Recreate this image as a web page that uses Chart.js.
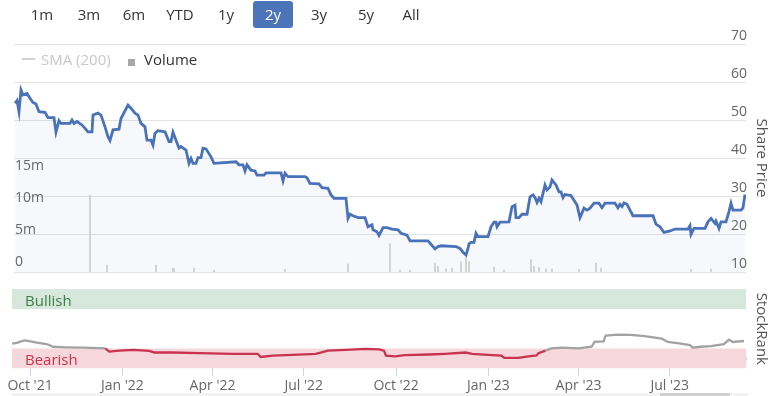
<!DOCTYPE html>
<html>
<head>
<meta charset="utf-8">
<script src="https://cdn.jsdelivr.net/npm/chart.js@4.4.0/dist/chart.umd.min.js"></script>
<style>
  body { margin: 0; background: #fff; font-family: 'Open Sans', sans-serif; }
  #wrap { position: relative; width: 769px; height: 396px; overflow: hidden; }
  canvas { position: absolute; left: 0; }
  #main { top: 0; }
  #rank { top: 280px; }
  .btn { position: absolute; top: 1px; width: 40px; height: 27px; line-height: 27px; text-align: center; font-size: 15px; color: #333; }
  .btn.on { background: #4b74b9; color: #fff; border-radius: 3px; }
  .leg { position: absolute; top: 49px; line-height: 20px; font-size: 15px; white-space: nowrap; }
  #scroll { position: absolute; left: 12px; top: 393px; width: 736px; height: 3px; background: #f2f2f2; }
  #thumb { position: absolute; left: 660px; top: 393px; width: 70px; height: 3px; background: #d0d0d0; }
</style>
</head>
<body>
<div id="wrap">
  <canvas id="main" width="769" height="284"></canvas>
  <canvas id="rank" width="769" height="116"></canvas>
  <div id="buttons"></div>
  <div style="position:absolute;left:22px;top:58px;width:13px;height:2px;background:#d0d0d0"></div>
  <div class="leg" style="left:41px;color:#c8c8c8">SMA (200)</div>
  <div style="position:absolute;left:128px;top:59px;width:7px;height:7px;background:#a8a8a8"></div>
  <div class="leg" style="left:144px;color:#333">Volume</div>
  <div id="scroll"></div>
  <div id="thumb"></div>
</div>
<script>
// range selector
const ranges = ['1m', '3m', '6m', 'YTD', '1y', '2y', '3y', '5y', 'All'];
const rangeCenters = [42, 89, 134, 180, 226, 273, 319, 366, 411];
const activeRange = '2y';

// x values are days counted from 1 Oct 2021
const monthTicks = [0, 92, 182, 273, 365, 457, 547, 638];
const monthLabels = ["Oct '21", "Jan '22", "Apr '22", "Jul '22", "Oct '22", "Jan '23", "Apr '23", "Jul '23"];

// share price
const priceDays = [-17, -15, -13, -11, -9, -5, -2, 1, 4, 7, 13, 16, 22, 24, 27, 29, 38, 40, 42, 45,
  50, 56, 60, 61, 66, 69, 73, 76, 78, 81, 87, 89, 96, 99, 103, 106, 109, 113, 115, 119,
  121, 123, 126, 133, 137, 139, 141, 144, 147, 149, 154, 157, 159, 161, 164, 166, 169, 171, 174, 179,
  182, 204, 207, 211, 213, 215, 219, 223, 225, 232, 234, 249, 251, 253, 256, 273, 275, 278, 287, 290,
  296, 299, 302, 314, 316, 318, 321, 326, 333, 336, 340, 341, 345, 347, 351, 355, 360, 366, 369, 375,
  378, 396, 399, 403, 406, 409, 424, 428, 431, 434, 436, 437, 439, 442, 444, 446, 456, 459, 462, 464,
  465, 468, 477, 480, 483, 484, 487, 490, 495, 498, 501, 503, 505, 507, 509, 513, 515, 518, 520, 524,
  527, 529, 531, 533, 539, 542, 545, 548, 552, 555, 558, 562, 567, 570, 573, 583, 586, 588, 590, 592,
  595, 598, 601, 621, 624, 628, 632, 638, 643, 656, 658, 659, 662, 673, 676, 679, 683, 684, 687, 689,
  694, 697, 699, 701, 709, 711, 713];
const prices = [54.4, 55.1, 52.2, 57.9, 56.6, 57.0, 55.7, 54.6, 54.2, 52.2, 52.0, 50.6, 50.6, 46.8, 49.8, 49.1, 49.1, 50.0, 49.1, 49.6,
  48.7, 46.9, 46.9, 51.3, 51.8, 51.3, 48.2, 45.6, 44.6, 47.4, 47.6, 50.4, 53.9, 53.1, 51.8, 51.3, 49.1, 48.2, 44.7, 44.7,
  43.4, 46.5, 47.2, 46.9, 44.3, 44.3, 46.8, 44.7, 42.6, 43.0, 42.1, 38.6, 39.9, 38.6, 38.6, 40.1, 40.1, 42.6, 42.4, 40.3,
  38.6, 39.0, 38.2, 38.2, 36.6, 38.2, 36.8, 36.6, 35.5, 35.5, 36.1, 36.1, 34.0, 36.0, 35.1, 35.1, 34.8, 33.3, 33.2, 32.2,
  32.0, 30.3, 29.4, 29.4, 24.1, 25.2, 24.8, 24.3, 24.3, 21.9, 22.4, 21.1, 20.6, 19.6, 21.7, 21.7, 21.3, 21.1, 20.2, 19.7,
  18.2, 18.2, 17.3, 16.1, 16.7, 16.9, 16.7, 16.2, 15.2, 14.5, 16.2, 17.4, 17.8, 17.8, 20.2, 19.3, 19.3, 21.9, 23.1, 23.1,
  21.9, 23.1, 23.2, 27.2, 27.6, 24.3, 24.3, 25.2, 25.2, 29.8, 30.3, 29.6, 28.3, 29.4, 28.5, 32.9, 31.6, 32.4, 34.2, 32.9,
  31.1, 31.1, 29.6, 30.4, 30.1, 28.9, 27.6, 24.3, 26.8, 26.3, 26.8, 28.1, 28.1, 26.9, 28.1, 28.1, 26.9, 27.8, 27.2, 28.2,
  27.8, 26.3, 24.8, 24.8, 22.6, 21.9, 20.4, 20.8, 21.3, 21.3, 22.2, 19.9, 21.5, 21.5, 23.2, 24.1, 22.8, 23.4, 21.5, 23.2,
  23.2, 25.9, 28.1, 26.3, 26.3, 26.9, 30.4];

// volume, millions of shares
const volDays = [58, 75, 124, 141, 142, 162, 182, 253, 316, 358, 368, 378, 403, 406, 414, 420, 429, 434, 437, 462,
  472, 499, 502, 507, 514, 520, 547, 564, 569, 659, 679];
const volumes = [12.0, 1.1, 1.1, 0.6, 0.5, 0.6, 0.3, 0.4, 1.25, 4.4, 0.3, 0.3, 1.4, 0.9, 0.5, 0.6, 1.6, 2.3, 1.6, 0.8,
  0.3, 1.9, 0.9, 0.7, 0.5, 0.5, 0.4, 1.4, 0.6, 0.4, 0.5];

// StockRank
const rankDays = [-18, -13, -9, -5, 0, 7, 13, 18, 23, 36, 53, 75, 79, 89, 103, 119, 124, 142, 169, 202,
  227, 230, 242, 268, 285, 297, 315, 335, 348, 353, 355, 364, 374, 398, 414, 434, 441, 461, 470, 473,
  487, 497, 505, 507, 514, 520, 530, 547, 560, 563, 572, 574, 586, 599, 613, 630, 636, 649, 658, 661,
  669, 679, 692, 697, 701, 712];
const rankValues = [31.3, 32.1, 34.1, 35.4, 34.1, 32.6, 31.3, 30.1, 27.2, 26.5, 26.0, 25.2, 21.1, 22.3, 23.2, 22.0, 19.9, 19.9, 19.1, 18.3,
  18.3, 14.3, 15.9, 17.1, 18.3, 22.3, 23.2, 24.4, 24.0, 22.3, 15.9, 15.0, 16.7, 17.4, 18.3, 19.9, 18.3, 16.7, 15.9, 13.0,
  13.0, 15.0, 16.2, 19.1, 22.3, 25.2, 26.0, 25.2, 27.2, 33.3, 34.1, 41.5, 42.7, 42.3, 40.6, 37.4, 33.3, 31.3, 29.3, 26.0,
  27.2, 28.0, 30.5, 36.2, 33.3, 34.5];

const FONT = "'Open Sans', sans-serif";
const BLUE = '#4a72b8';
const RED = '#c9334f';
const GREY = '#a2a2a2';

const btnBox = document.getElementById('buttons');
ranges.forEach((r, i) => {
  const b = document.createElement('div');
  b.className = 'btn' + (r === activeRange ? ' on' : '');
  b.style.left = (rangeCenters[i] - 20) + 'px';
  b.textContent = r;
  btnBox.appendChild(b);
});

const tickFont = { family: FONT, size: 14 };
const titleFont = { family: FONT, size: 15, lineHeight: 1 };

new Chart(document.getElementById('main'), {
  type: 'line',
  data: {
    datasets: [
      {
        type: 'line',
        label: 'Share Price',
        data: priceDays.map((d, i) => ({ x: d, y: prices[i] })),
        yAxisID: 'price',
        borderColor: BLUE,
        borderWidth: 2.8,
        pointRadius: 0,
        tension: 0,
        fill: 'start',
        backgroundColor: 'rgba(74,114,184,0.05)',
        order: 0
      },
      {
        type: 'bar',
        label: 'Volume',
        data: volDays.map((d, i) => ({ x: d, y: volumes[i] })),
        yAxisID: 'vol',
        backgroundColor: '#cccccc',
        barThickness: 1,
        order: 1
      }
    ]
  },
  options: {
    responsive: false,
    animation: false,
    events: [],
    layout: { padding: { left: 12, top: 44, bottom: 12, right: 0 } },
    plugins: {
      legend: { display: false },
      tooltip: { enabled: false },
      filler: { drawTime: 'beforeDatasetsDraw' }
    },
    scales: {
      x: { type: 'linear', min: -18, max: 714, display: false, offset: false },
      price: {
        position: 'right', min: 10, max: 70,
        ticks: { stepSize: 10, mirror: true, padding: 1, labelOffset: -8, font: tickFont, color: '#666' },
        grid: { color: '#e3e3e3', drawTicks: false },
        border: { display: false },
        title: { display: true, text: 'Share Price', font: titleFont, color: '#555', padding: { top: 0, bottom: 6 } }
      },
      vol: {
        position: 'left', min: 0, max: 35.6,
        ticks: {
          stepSize: 5, mirror: true, padding: 1, labelOffset: -10, font: tickFont, color: '#666',
          callback: v => v > 15 ? null : (v === 0 ? '0' : v + 'm')
        },
        grid: { display: false, drawTicks: false },
        border: { display: false }
      }
    }
  }
});

const bands = {
  id: 'bands',
  beforeDatasetsDraw(chart) {
    const { ctx, chartArea: { left, right }, scales: { rank } } = chart;
    const top1 = rank.getPixelForValue(100), bot1 = rank.getPixelForValue(75);
    const top2 = rank.getPixelForValue(25), bot2 = rank.getPixelForValue(0);
    ctx.save();
    ctx.fillStyle = '#d5e8db';
    ctx.fillRect(left, top1, right - left, bot1 - top1);
    ctx.fillStyle = '#f5d7dc';
    ctx.fillRect(left, top2, right - left, bot2 - top2);
    ctx.font = '15px ' + FONT;
    ctx.textBaseline = 'middle';
    ctx.fillStyle = '#3f7f47';
    ctx.fillText('Bullish', left + 13, (top1 + bot1) / 2 + 2);
    ctx.fillStyle = RED;
    ctx.fillText('Bearish', left + 13, (top2 + bot2) / 2 + 2);
    ctx.restore();
  }
};

new Chart(document.getElementById('rank'), {
  type: 'line',
  data: {
    datasets: [{
      label: 'StockRank',
      data: rankDays.map((d, i) => ({ x: d, y: rankValues[i] })),
      yAxisID: 'rank',
      borderWidth: 2.3,
      pointRadius: 0,
      tension: 0,
      borderColor: GREY,
      segment: {
        borderColor: c => (c.p1.parsed.y < 25 && c.p0.parsed.y < 25.5) ? RED : GREY
      }
    }]
  },
  options: {
    responsive: false,
    animation: false,
    events: [],
    layout: { padding: { left: 12, top: 7, bottom: 1, right: 0 } },
    plugins: { legend: { display: false }, tooltip: { enabled: false } },
    scales: {
      x: {
        type: 'linear', min: -18, max: 714, offset: false,
        afterBuildTicks: s => { s.ticks = monthTicks.map(v => ({ value: v })); },
        ticks: {
          autoSkip: false, maxRotation: 0, padding: 1, font: tickFont, color: '#666',
          callback: (v, i) => monthLabels[i]
        },
        grid: { drawOnChartArea: false, tickLength: 8, color: '#ccd6eb' },
        border: { display: false }
      },
      rank: {
        position: 'right', min: 0, max: 100,
        ticks: {
          stepSize: 25, mirror: true, padding: 1, labelOffset: -8, font: tickFont, color: '#666',
          callback: v => v === 0 ? '0' : (v === 100 ? '' : null)
        },
        grid: { color: c => (c.tick && c.tick.value === 100) ? '#e3e3e3' : 'rgba(0,0,0,0)', drawTicks: false },
        border: { display: false },
        title: { display: true, text: 'StockRank', font: titleFont, color: '#555', padding: { top: 0, bottom: 6 } }
      }
    }
  },
  plugins: [bands]
});
</script>
</body>
</html>
